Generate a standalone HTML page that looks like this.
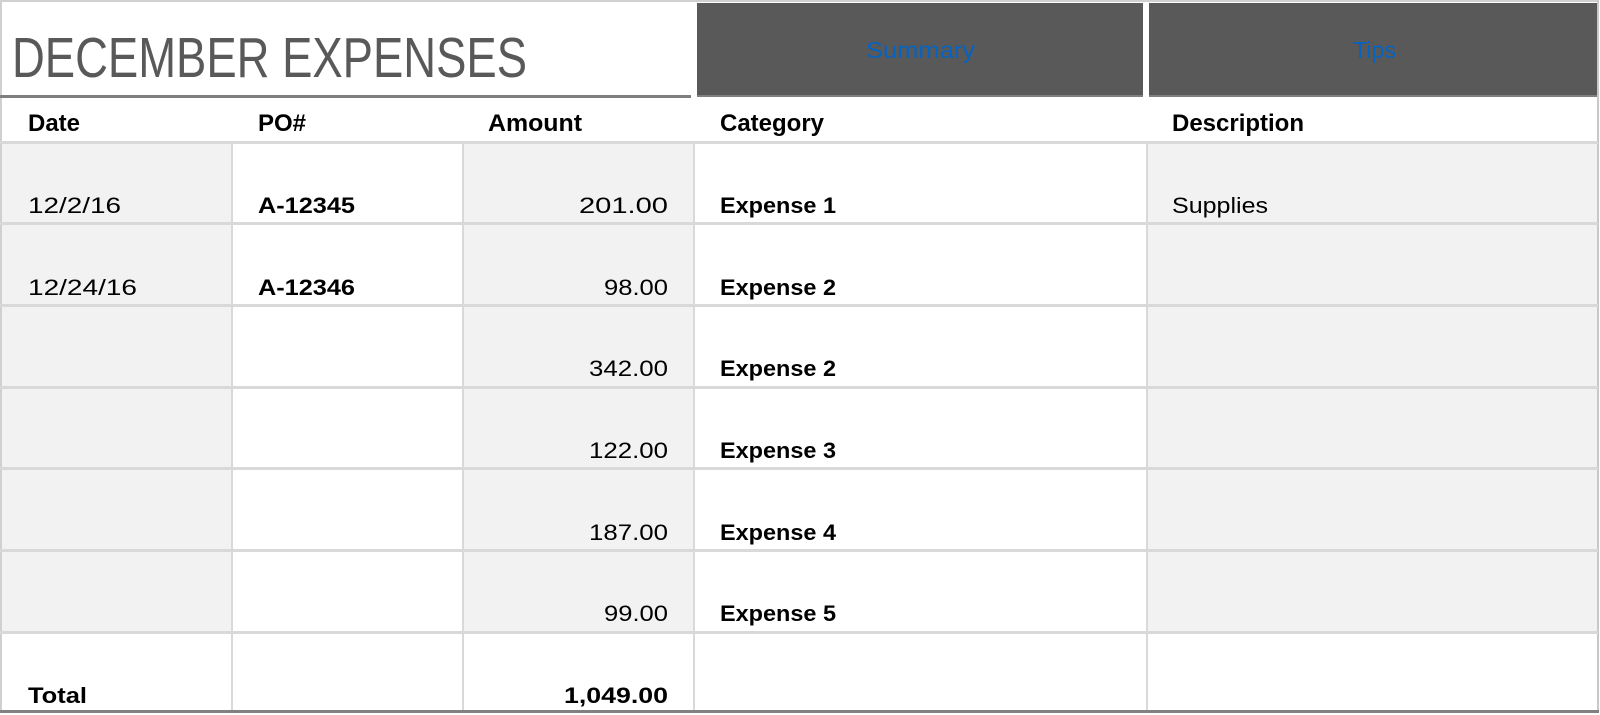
<!DOCTYPE html>
<html><head><meta charset="utf-8"><style>
html,body{margin:0;padding:0;background:#fff;width:1600px;height:715px;overflow:hidden}
svg{display:block}
text{font-family:"Liberation Sans",sans-serif}
.h{font-weight:bold;font-size:24px;fill:#000}
.d{font-size:22px;fill:#000}
.b{font-size:22px;fill:#000;font-weight:bold}
</style></head><body>
<svg width="1600" height="715" xmlns="http://www.w3.org/2000/svg">
<rect x="0" y="0" width="1600" height="715" fill="#fff"/>
<line x1="0" y1="1" x2="1599" y2="1" stroke="#d0d0d0" stroke-width="2"/>
<line x1="1" y1="0" x2="1" y2="713" stroke="#d0d0d0" stroke-width="2"/>
<line x1="1598" y1="0" x2="1598" y2="713" stroke="#c8c8c8" stroke-width="2"/>
<text x="12" y="77" font-size="57" fill="#595959" textLength="515" lengthAdjust="spacingAndGlyphs">DECEMBER EXPENSES</text>
<rect x="0" y="95" width="691" height="3" fill="#7f7f7f"/>
<rect x="697" y="3" width="446" height="94" fill="#595959"/>
<rect x="697" y="95" width="446" height="2" fill="#7f7f7f"/>
<rect x="1149" y="3" width="448" height="94" fill="#595959"/>
<rect x="1149" y="95" width="448" height="2" fill="#7f7f7f"/>
<text x="866" y="58" font-size="23" fill="#0563c1" textLength="109" lengthAdjust="spacingAndGlyphs">Summary</text>
<text x="1353" y="58" font-size="23" fill="#0563c1" textLength="43" lengthAdjust="spacingAndGlyphs">Tips</text>
<text class="h" x="28" y="131" textLength="52" lengthAdjust="spacingAndGlyphs">Date</text>
<text class="h" x="258" y="131" textLength="48" lengthAdjust="spacingAndGlyphs">PO#</text>
<text class="h" x="488" y="131" textLength="94" lengthAdjust="spacingAndGlyphs">Amount</text>
<text class="h" x="720" y="131" textLength="104" lengthAdjust="spacingAndGlyphs">Category</text>
<text class="h" x="1172" y="131" textLength="132" lengthAdjust="spacingAndGlyphs">Description</text>
<g fill="#f2f2f2">
<rect x="2" y="143" width="230" height="489"/>
<rect x="463" y="143" width="231" height="489"/>
<rect x="1147" y="143" width="450" height="489"/>
</g>
<g fill="#d9d9d9">
<rect x="0" y="141" width="1598" height="3"/>
<rect x="0" y="222" width="1598" height="3"/>
<rect x="0" y="304" width="1598" height="3"/>
<rect x="0" y="386" width="1598" height="3"/>
<rect x="0" y="467" width="1598" height="3"/>
<rect x="0" y="549" width="1598" height="3"/>
<rect x="0" y="631" width="1598" height="3"/>
</g>
<g fill="#d9d9d9">
<rect x="231" y="143" width="2" height="567"/>
<rect x="462" y="143" width="2" height="567"/>
<rect x="693" y="143" width="2" height="567"/>
<rect x="1146" y="143" width="2" height="567"/>
</g>
<rect x="0" y="710" width="1599" height="3" fill="#808080"/>
<text class="d" x="28" y="213" textLength="93" lengthAdjust="spacingAndGlyphs">12/2/16</text>
<text class="b" x="258" y="213" textLength="97" lengthAdjust="spacingAndGlyphs">A-12345</text>
<text class="d" x="579" y="213" textLength="89" lengthAdjust="spacingAndGlyphs">201.00</text>
<text class="b" x="720" y="213" textLength="116" lengthAdjust="spacingAndGlyphs">Expense 1</text>
<text class="d" x="1172" y="213" textLength="96" lengthAdjust="spacingAndGlyphs">Supplies</text>

<text class="d" x="28" y="295" textLength="109" lengthAdjust="spacingAndGlyphs">12/24/16</text>
<text class="b" x="258" y="295" textLength="97" lengthAdjust="spacingAndGlyphs">A-12346</text>
<text class="d" x="604" y="295" textLength="64" lengthAdjust="spacingAndGlyphs">98.00</text>
<text class="b" x="720" y="295" textLength="116" lengthAdjust="spacingAndGlyphs">Expense 2</text>

<text class="d" x="589" y="376" textLength="79" lengthAdjust="spacingAndGlyphs">342.00</text>
<text class="b" x="720" y="376" textLength="116" lengthAdjust="spacingAndGlyphs">Expense 2</text>
<text class="d" x="589" y="458" textLength="79" lengthAdjust="spacingAndGlyphs">122.00</text>
<text class="b" x="720" y="458" textLength="116" lengthAdjust="spacingAndGlyphs">Expense 3</text>
<text class="d" x="589" y="540" textLength="79" lengthAdjust="spacingAndGlyphs">187.00</text>
<text class="b" x="720" y="540" textLength="116" lengthAdjust="spacingAndGlyphs">Expense 4</text>
<text class="d" x="604" y="621" textLength="64" lengthAdjust="spacingAndGlyphs">99.00</text>
<text class="b" x="720" y="621" textLength="116" lengthAdjust="spacingAndGlyphs">Expense 5</text>

<text class="b" x="28" y="703" textLength="59" lengthAdjust="spacingAndGlyphs">Total</text>
<text class="b" x="564" y="703" textLength="104" lengthAdjust="spacingAndGlyphs">1,049.00</text>
</svg>
</body></html>
